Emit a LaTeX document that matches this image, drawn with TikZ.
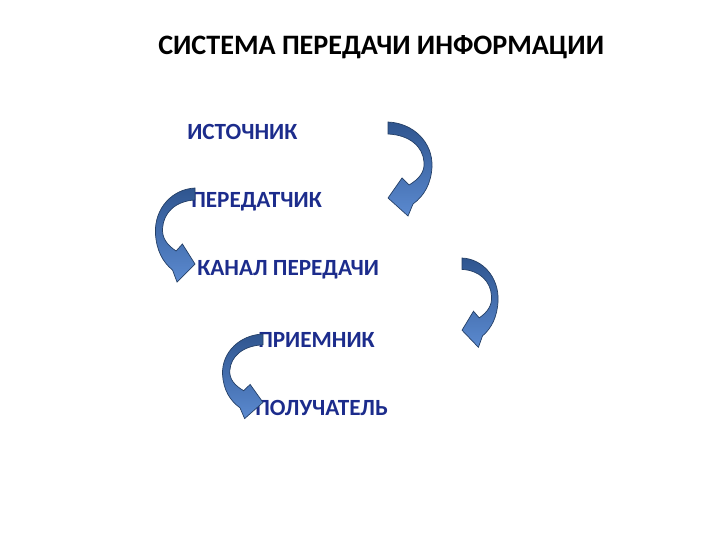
\documentclass[tikz,border=0pt]{standalone}
\usepackage{fontspec}
\setmainfont{Carlito}
\definecolor{itemblue}{HTML}{1C2C8C}
\definecolor{arrowtop}{HTML}{2F558F}
\definecolor{arrowbot}{HTML}{5B8AD0}
\definecolor{arrowline}{HTML}{243F66}
\begin{document}
\begin{tikzpicture}[x=0.025cm,y=-0.025cm]
\tikzstyle{every node}=[inner sep=0pt,anchor=west]
\tikzstyle{head}=[font=\fontsize{20}{24}\selectfont\bfseries,text=black]
\tikzstyle{item}=[font=\fontsize{16.5}{20}\selectfont\bfseries,text=itemblue]
\tikzstyle{band}=[top color=arrowtop,bottom color=arrowbot,draw=arrowline,line width=0.5pt]
\tikzset{curved/.pic={
\path[band] (0,0) .. controls (25,1) and (45,20) .. (44,45)
 .. controls (43,62) and (36,74) .. (25,82) -- (20,94) -- (0,76) -- (14,56) -- (21,63)
 .. controls (31,57) and (37,50) .. (36,40) .. controls (35,25) and (22,13) .. (0,12) -- cycle;
}}
\useasboundingbox (0,0) rectangle (720,540);

\node (title) at (158,47) [head] {СИСТЕМА ПЕРЕДАЧИ ИНФОРМАЦИИ};
\node (src) at (187,132) [item] {ИСТОЧНИК};
\node (tx) at (191,202) [item] {ПЕРЕДАТЧИК};
\node (chan) at (197,270) [item] {КАНАЛ ПЕРЕДАЧИ};
\node (rx) at (258,340) [item] {ПРИЕМНИК};
\node (dst) at (255,408) [item] {ПОЛУЧАТЕЛЬ};

\pic at (388,122) {curved};
\pic[xscale=-0.9,yscale=1.0] at (195,188) {curved};
\pic[xscale=0.82,yscale=0.95] at (462,258) {curved};
\pic[xscale=-0.92,yscale=0.9] at (263,334) {curved};
\end{tikzpicture}
\end{document}
